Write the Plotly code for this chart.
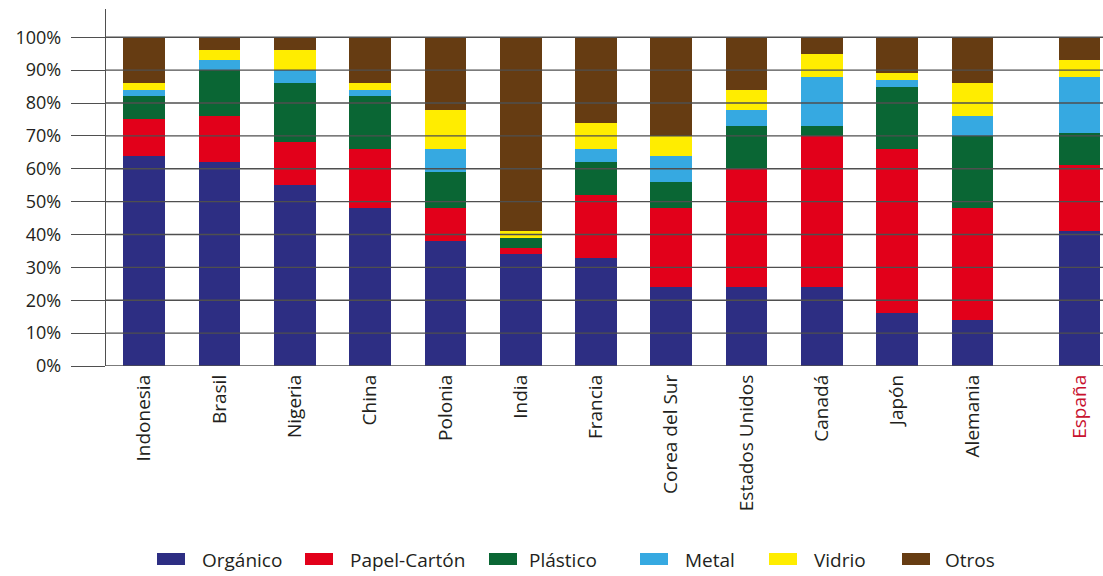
import plotly.graph_objects as go

# Composición de los residuos municipales por país (% del total)
countries = ["Indonesia", "Brasil", "Nigeria", "China", "Polonia", "India", "Francia",
             "Corea del Sur", "Estados Unidos", "Canadá", "Japón", "Alemania", "España"]
organico = [64, 62, 55, 48, 38, 34, 33, 24, 24, 24, 16, 14, 41]
papel_carton = [11, 14, 13, 18, 10, 2, 19, 24, 36, 46, 50, 34, 20]
plastico = [7, 14, 18, 16, 11, 3, 10, 8, 13, 3, 19, 22, 10]
metal = [2, 3, 4, 2, 7, 0, 4, 8, 5, 15, 2, 6, 17]
vidrio = [2, 3, 6, 2, 12, 2, 8, 6, 6, 7, 2, 10, 5]
otros = [14, 4, 4, 14, 22, 59, 26, 30, 16, 5, 11, 14, 7]

series_names = ["Orgánico", "Papel-Cartón", "Plástico", "Metal", "Vidrio", "Otros"]
series_values = [organico, papel_carton, plastico, metal, vidrio, otros]
series_colors = ["#2d2e83", "#e2001a", "#0a6634", "#36a9e1", "#ffed00", "#663c12"]

y_ticks = [0, 10, 20, 30, 40, 50, 60, 70, 80, 90, 100]
y_tick_labels = ["0%", "10%", "20%", "30%", "40%", "50%", "60%", "70%", "80%", "90%", "100%"]

# España se separa del resto con un hueco adicional
highlight = "España"
extra_gap = 0.42
x_pos = [i + (extra_gap if c == highlight else 0) for i, c in enumerate(countries)]

TEXT = "#231f20"
GRID = "#4f4f4f"
FONT = "Open Sans"

W, H = 1103, 576
ML, MR, MT, MB = 106, 0, 9, 210
PW, PH = W - ML - MR, H - MT - MB


def px_x(p):
    return (p - ML) / PW


def px_y(p):
    return (H - MB - p) / PH


fig = go.Figure()
for name, vals, col in zip(series_names, series_values, series_colors):
    fig.add_trace(go.Bar(
        x=x_pos, y=vals, name=name, width=0.554,
        marker=dict(color=col, line=dict(width=0)),
        showlegend=False,
    ))

# horizontal grid drawn over the bars
shapes = []
for v in y_ticks:
    shapes.append(dict(type="line", xref="paper", yref="y", x0=0, x1=1, y0=v, y1=v,
                       line=dict(color=GRID, width=1.4), layer="above"))

# legend: wide swatches plus labels
legend_swatch_x = [157, 305, 489, 640, 769, 902]
legend_text_x = [200, 348, 527, 683, 812, 943]
annotations = []
for name, col, sx, tx in zip(series_names, series_colors, legend_swatch_x, legend_text_x):
    shapes.append(dict(type="rect", xref="paper", yref="paper",
                       x0=px_x(sx), x1=px_x(sx + 28), y0=px_y(565), y1=px_y(553),
                       fillcolor=col, line=dict(width=0), layer="above"))
    annotations.append(dict(xref="paper", yref="paper", x=px_x(tx), y=px_y(560),
                            text=name, showarrow=False, xanchor="left", yanchor="middle",
                            font=dict(family=FONT, size=19, color=TEXT)))

tick_text = [f"<span style='color:#c8102e'>{c}</span>" if c == highlight else c
             for c in countries]

fig.update_layout(
    width=W, height=H,
    margin=dict(l=ML, r=MR, t=MT, b=MB, pad=0),
    paper_bgcolor="white", plot_bgcolor="white",
    barmode="stack",
    showlegend=False,
    font=dict(family=FONT, color=TEXT),
    shapes=shapes,
    annotations=annotations,
    xaxis=dict(
        range=[-0.507, 12.733],
        tickmode="array", tickvals=x_pos, ticktext=tick_text,
        tickangle=-90, ticks="", showgrid=False, zeroline=False, showline=False,
        tickfont=dict(family=FONT, size=19, color=TEXT),
        ticklabelstandoff=4,
    ),
    yaxis=dict(
        range=[0, 108.6],
        tickmode="array", tickvals=y_ticks, ticktext=y_tick_labels,
        ticks="outside", ticklen=34, tickwidth=1.4, tickcolor=GRID,
        showgrid=False, zeroline=False,
        showline=True, linecolor=GRID, linewidth=1.4,
        tickfont=dict(family=FONT, size=18, color=TEXT),
        ticklabelstandoff=6,
    ),
)

fig.write_html("out.html")
